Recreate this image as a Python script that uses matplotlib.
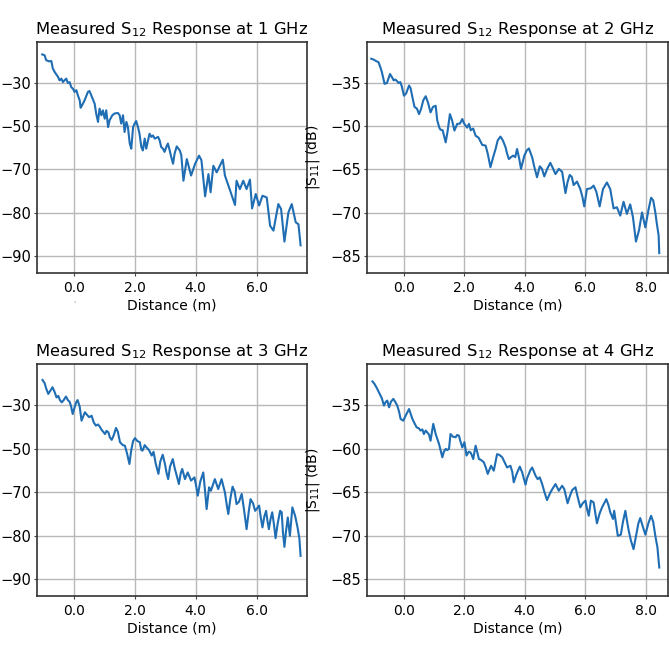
import matplotlib
matplotlib.use('Agg')
import matplotlib.pyplot as plt

# distance (m) and |S12| (in grid units of the shared linear axis)
dist_1ghz = [-1.03, -0.95, -0.90, -0.81, -0.73, -0.68, -0.62, -0.57, -0.51, -0.46,
             -0.40, -0.35, -0.30, -0.24, -0.19, -0.13, -0.08, -0.02, 0.03, 0.09,
             0.14, 0.20, 0.23, 0.28, 0.36, 0.47, 0.52, 0.58, 0.69, 0.74,
             0.80, 0.85, 0.91, 0.96, 1.02, 1.07, 1.13, 1.18, 1.27, 1.34,
             1.45, 1.51, 1.56, 1.62, 1.67, 1.73, 1.78, 1.84, 1.89, 1.95,
             2.00, 2.05, 2.11, 2.16, 2.22, 2.27, 2.33, 2.38, 2.44, 2.49,
             2.55, 2.60, 2.66, 2.77, 2.82, 2.87, 2.93, 2.98, 3.04, 3.09,
             3.15, 3.20, 3.26, 3.31, 3.38, 3.48, 3.53, 3.60, 3.71, 3.85,
             3.98, 4.11, 4.19, 4.31, 4.42, 4.49, 4.58, 4.69, 4.89, 4.96,
             5.13, 5.29, 5.34, 5.45, 5.56, 5.67, 5.78, 5.85, 5.97, 6.08,
             6.19, 6.33, 6.44, 6.55, 6.71, 6.80, 6.91, 7.04, 7.15, 7.28,
             7.37, 7.44]
s12_1ghz = [-20.1, -20.4, -22.1, -22.5, -22.4, -25.0, -26.2, -27.0, -27.9, -29.1,
            -28.5, -29.7, -29.1, -28.5, -30.0, -29.7, -31.4, -32.0, -33.1, -32.5,
            -34.3, -36.0, -38.6, -37.7, -36.0, -33.1, -32.8, -34.3, -37.2, -40.6,
            -43.5, -38.9, -41.2, -39.5, -42.4, -39.5, -45.3, -42.9, -41.2, -40.6,
            -40.4, -41.2, -44.1, -41.2, -47.0, -43.5, -45.3, -51.0, -52.8, -45.3,
            -44.1, -43.2, -45.3, -47.6, -52.2, -53.4, -49.3, -52.8, -49.9, -47.6,
            -48.7, -48.2, -49.3, -48.7, -49.9, -52.2, -52.8, -53.9, -52.2, -51.0,
            -53.4, -55.7, -58.0, -54.5, -52.0, -53.4, -55.1, -63.9, -56.4, -62.1,
            -58.1, -55.2, -56.8, -69.3, -61.6, -67.9, -58.7, -61.0, -56.6, -62.1,
            -67.3, -72.3, -63.9, -66.8, -63.9, -66.8, -63.5, -73.5, -68.5, -72.5,
            -69.1, -69.7, -79.5, -81.2, -72.0, -73.7, -85.0, -74.9, -72.0, -78.3,
            -79.0, -86.3]

dist_2ghz = [-1.07, -0.99, -0.91, -0.83, -0.77, -0.72, -0.63, -0.55, -0.45, -0.39,
             -0.33, -0.28, -0.22, -0.17, -0.11, -0.06, 0.01, 0.08, 0.18, 0.23,
             0.30, 0.36, 0.44, 0.51, 0.58, 0.65, 0.73, 0.80, 0.89, 0.97,
             1.06, 1.11, 1.18, 1.22, 1.29, 1.39, 1.45, 1.53, 1.60, 1.68,
             1.77, 1.86, 1.94, 1.99, 2.05, 2.10, 2.16, 2.22, 2.30, 2.38,
             2.48, 2.60, 2.71, 2.78, 2.87, 2.96, 3.04, 3.11, 3.20, 3.28,
             3.37, 3.42, 3.48, 3.55, 3.62, 3.69, 3.75, 3.82, 3.88, 3.99,
             4.07, 4.14, 4.25, 4.32, 4.41, 4.50, 4.57, 4.65, 4.75, 4.85,
             4.94, 5.02, 5.13, 5.24, 5.35, 5.42, 5.49, 5.56, 5.62, 5.73,
             5.84, 5.91, 5.97, 6.06, 6.19, 6.28, 6.37, 6.48, 6.59, 6.72,
             6.83, 6.94, 7.05, 7.16, 7.27, 7.38, 7.49, 7.58, 7.68, 7.78,
             7.88, 7.99, 8.09, 8.18, 8.25, 8.32, 8.37, 8.43, 8.45]
s12_2ghz = [-21.6, -21.9, -22.4, -22.8, -24.5, -26.2, -30.3, -30.0, -26.9, -27.9,
            -29.1, -28.8, -29.3, -30.0, -29.7, -31.2, -34.4, -33.7, -30.9, -31.8,
            -35.4, -38.3, -38.9, -40.8, -38.9, -36.0, -34.6, -36.6, -40.2, -38.3,
            -37.9, -42.9, -45.5, -46.2, -46.4, -50.6, -47.0, -40.8, -42.9, -46.5,
            -44.2, -44.1, -42.5, -43.9, -44.8, -45.5, -44.2, -46.4, -45.8, -48.3,
            -49.0, -51.5, -51.7, -54.5, -59.2, -55.7, -52.9, -49.9, -48.6, -49.9,
            -52.3, -54.5, -56.4, -55.7, -55.2, -55.7, -52.9, -56.2, -59.8, -55.2,
            -53.4, -52.7, -55.8, -59.1, -62.7, -58.9, -59.7, -62.4, -59.7, -57.7,
            -59.7, -61.6, -59.8, -60.8, -68.2, -64.3, -61.9, -62.6, -65.4, -64.2,
            -66.8, -69.5, -72.8, -66.8, -66.5, -65.6, -67.7, -72.8, -66.8, -64.5,
            -66.8, -73.5, -73.1, -76.0, -71.2, -75.4, -72.1, -76.5, -85.0, -81.1,
            -74.9, -80.1, -74.2, -69.8, -70.7, -74.9, -78.8, -82.9, -89.0]

dist_3ghz = [-1.02, -0.95, -0.90, -0.83, -0.77, -0.69, -0.62, -0.56, -0.50, -0.45,
             -0.39, -0.33, -0.25, -0.19, -0.13, -0.08, -0.03, 0.03, 0.08, 0.13,
             0.20, 0.26, 0.32, 0.37, 0.44, 0.51, 0.59, 0.66, 0.73, 0.80,
             0.86, 0.92, 0.97, 1.03, 1.08, 1.14, 1.19, 1.25, 1.32, 1.39,
             1.45, 1.52, 1.61, 1.68, 1.75, 1.83, 1.89, 1.95, 2.01, 2.09,
             2.17, 2.22, 2.26, 2.33, 2.39, 2.47, 2.56, 2.62, 2.69, 2.78,
             2.84, 2.92, 2.99, 3.05, 3.10, 3.16, 3.25, 3.32, 3.39, 3.45,
             3.51, 3.56, 3.65, 3.74, 3.85, 3.96, 4.01, 4.07, 4.15, 4.25,
             4.31, 4.36, 4.44, 4.50, 4.63, 4.74, 4.85, 4.96, 5.02, 5.07,
             5.14, 5.21, 5.28, 5.34, 5.42, 5.51, 5.58, 5.67, 5.74, 5.80,
             5.88, 5.95, 6.01, 6.08, 6.13, 6.19, 6.25, 6.31, 6.35, 6.40,
             6.46, 6.51, 6.57, 6.62, 6.69, 6.77, 6.82, 6.86, 6.91, 6.96,
             7.02, 7.09, 7.17, 7.26, 7.34, 7.40, 7.44]
s12_3ghz = [-21.4, -22.5, -24.3, -26.2, -25.2, -23.9, -25.6, -27.4, -26.9, -28.3,
            -29.1, -28.4, -27.1, -28.3, -28.9, -30.6, -33.1, -30.9, -29.2, -28.3,
            -30.6, -35.4, -33.8, -32.5, -33.4, -34.2, -33.7, -36.0, -37.1, -36.7,
            -37.5, -38.6, -39.2, -40.0, -38.9, -39.4, -41.2, -42.0, -40.3, -37.9,
            -39.2, -42.8, -43.8, -44.0, -46.6, -50.3, -45.5, -42.4, -41.4, -42.4,
            -42.8, -45.5, -45.7, -43.8, -44.6, -45.5, -47.4, -46.1, -50.1, -53.7,
            -49.5, -47.1, -50.1, -53.5, -55.5, -51.2, -48.6, -52.0, -54.7, -57.2,
            -53.5, -52.0, -55.5, -53.2, -56.0, -54.9, -57.5, -61.2, -56.4, -53.2,
            -59.8, -65.8, -58.3, -59.5, -55.5, -58.9, -55.5, -60.1, -64.4, -67.5,
            -62.1, -58.1, -59.8, -64.1, -63.3, -60.6, -65.6, -72.7, -66.7, -62.4,
            -63.8, -66.4, -65.6, -64.6, -68.4, -72.1, -68.4, -66.4, -69.6, -72.7,
            -69.0, -66.9, -71.3, -75.8, -70.7, -66.4, -66.9, -73.6, -78.8, -73.6,
            -68.7, -75.0, -65.2, -68.1, -72.1, -75.9, -81.9]

dist_4ghz = [-1.03, -0.96, -0.88, -0.80, -0.72, -0.65, -0.59, -0.54, -0.48, -0.42,
             -0.34, -0.28, -0.21, -0.15, -0.10, -0.01, 0.08, 0.18, 0.23, 0.29,
             0.36, 0.43, 0.50, 0.56, 0.62, 0.67, 0.73, 0.78, 0.84, 0.89,
             0.98, 1.06, 1.11, 1.17, 1.22, 1.28, 1.33, 1.39, 1.44, 1.50,
             1.55, 1.63, 1.72, 1.77, 1.83, 1.88, 1.94, 2.01, 2.08, 2.15,
             2.21, 2.26, 2.30, 2.38, 2.43, 2.49, 2.56, 2.65, 2.72, 2.78,
             2.89, 2.98, 3.04, 3.09, 3.17, 3.26, 3.33, 3.42, 3.53, 3.59,
             3.64, 3.72, 3.78, 3.84, 3.92, 3.97, 4.03, 4.08, 4.14, 4.19,
             4.25, 4.36, 4.43, 4.50, 4.58, 4.65, 4.74, 4.85, 4.94, 5.02,
             5.13, 5.24, 5.31, 5.37, 5.42, 5.49, 5.57, 5.68, 5.75, 5.84,
             5.92, 6.01, 6.06, 6.12, 6.19, 6.28, 6.34, 6.39, 6.48, 6.56,
             6.70, 6.77, 6.83, 6.92, 6.96, 7.03, 7.08, 7.18, 7.25, 7.33,
             7.38, 7.44, 7.51, 7.60, 7.69, 7.76, 7.82, 7.91, 7.99, 8.09,
             8.18, 8.25, 8.32, 8.39, 8.45]
s12_4ghz = [-21.9, -22.8, -24.3, -26.0, -27.7, -30.2, -28.9, -28.5, -30.8, -28.9,
            -27.9, -28.9, -30.2, -32.3, -34.8, -35.4, -33.4, -31.4, -32.9, -34.8,
            -36.3, -37.7, -38.0, -38.8, -38.4, -40.0, -38.8, -39.4, -40.2, -42.3,
            -36.5, -40.0, -41.5, -43.4, -45.5, -48.0, -46.1, -45.1, -45.5, -45.1,
            -40.0, -40.9, -41.1, -40.3, -40.6, -42.6, -44.6, -42.8, -47.4, -46.1,
            -46.3, -47.4, -48.6, -44.0, -46.1, -48.6, -48.9, -49.7, -51.6, -53.7,
            -50.9, -52.6, -49.5, -46.9, -47.2, -48.0, -49.5, -51.5, -50.9, -52.9,
            -56.6, -54.1, -52.6, -51.2, -53.2, -55.2, -57.4, -55.2, -53.7, -52.4,
            -51.5, -54.3, -55.5, -54.9, -57.2, -59.8, -62.7, -60.1, -58.5, -57.2,
            -59.5, -57.8, -58.9, -61.5, -63.8, -61.5, -59.3, -58.3, -61.5, -65.2,
            -63.8, -62.9, -65.6, -68.1, -62.9, -63.5, -67.3, -70.7, -67.3, -65.2,
            -62.4, -64.4, -66.9, -69.2, -66.4, -71.3, -75.0, -74.6, -70.2, -66.4,
            -69.6, -73.2, -76.5, -79.6, -74.7, -70.7, -68.9, -71.9, -74.6, -70.7,
            -68.1, -70.2, -75.0, -79.0, -85.9]

freqs = [1, 2, 3, 4]
grid_levels = [-30, -45, -60, -75, -90]
ytick_labels = [['−30', '−50', '−70', '−80', '−90'],
                ['−35', '−50', '−65', '−70', '−85'],
                ['−30', '−50', '−70', '−80', '−90'],
                ['−35', '−60', '−65', '−70', '−85']]
xticks_short = [0, 2, 4, 6]
xticks_long = [0, 2, 4, 6, 8]

dists = [dist_1ghz, dist_2ghz, dist_3ghz, dist_4ghz]
vals = [s12_1ghz, s12_2ghz, s12_3ghz, s12_4ghz]

fig = plt.figure(figsize=(6.69, 6.69), dpi=100)

rects = [[0.0553, 0.5919, 0.4036, 0.3453],
         [0.5486, 0.5919, 0.4504, 0.3453],
         [0.0553, 0.1091, 0.4036, 0.3464],
         [0.5486, 0.1091, 0.4504, 0.3464]]
ylims = [(-95.9, -15.8), (-95.9, -15.8), (-95.7, -16.0), (-95.7, -16.0)]
xlims = [(-1.20, 7.65), (-1.21, 8.75), (-1.20, 7.65), (-1.21, 8.75)]

for i in range(4):
    ax = fig.add_axes(rects[i])
    ax.plot(dists[i], vals[i], color='#1f6db3', linewidth=1.5)
    ax.set_xlim(*xlims[i])
    ax.set_ylim(*ylims[i])
    xt = xticks_short if i % 2 == 0 else xticks_long
    ax.set_xticks(xt)
    ax.set_xticklabels(['%.1f' % v for v in xt])
    ax.set_yticks(grid_levels)
    ax.set_yticklabels(ytick_labels[i])
    ax.tick_params(labelsize=10, length=2.5, width=0.8, color='#444444')
    ax.tick_params(axis='y', pad=1.5, labelsize=10.5)
    ax.grid(True, color='#b8b8b8', linewidth=1.0)
    ax.set_axisbelow(True)
    for sp in ax.spines.values():
        sp.set_color('#333333')
        sp.set_linewidth(1.2)
    ax.set_title('Measured S$_{12}$ Response at %d GHz' % freqs[i], fontsize=11.8, pad=6)
    ax.set_xlabel('Distance (m)', fontsize=10, labelpad=2)
    if i % 2 == 1:
        ax.set_ylabel('|S$_{11}$| (dB)', fontsize=10)
        ax.yaxis.set_label_coords(-0.15, 0.5)

# stray mark under the first panel
fig.text(0.1106, 1 - 305 / 669, '\'', fontsize=6, color='#aaaaaa', ha='center', va='center')

fig.savefig('out.png', dpi=100)
